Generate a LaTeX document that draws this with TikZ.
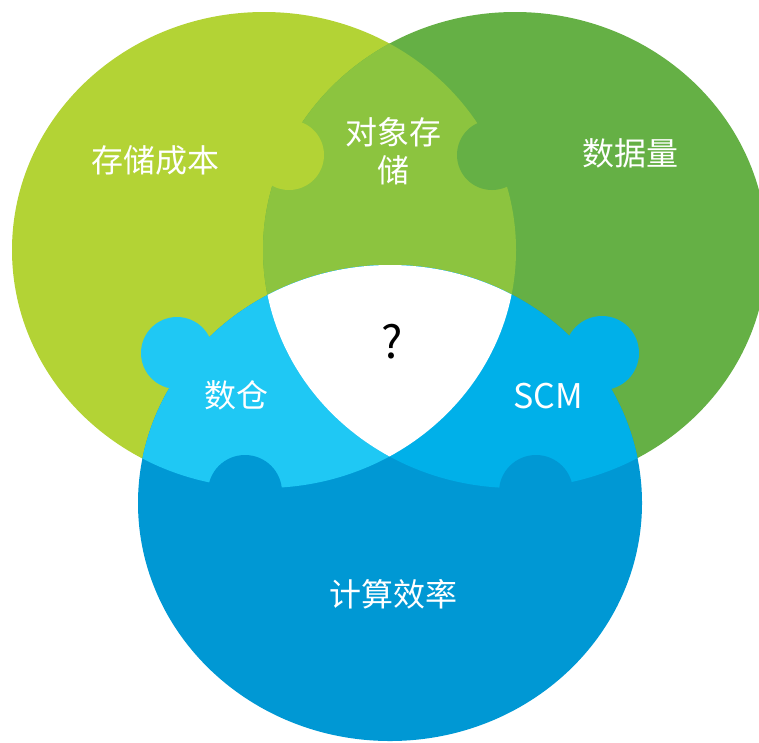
\documentclass[tikz,border=0pt]{standalone}
\usepackage{fontspec}
\newfontfamily\cjk{Noto Sans CJK SC}
\definecolor{cstore}{HTML}{B3D335}
\definecolor{cdata}{HTML}{65B045}
\definecolor{cobj}{HTML}{8CC43F}
\definecolor{ccomp}{HTML}{0098D4}
\definecolor{cdw}{HTML}{1FC8F4}
\definecolor{cscm}{HTML}{00B0E9}
\tikzset{
  lbl/.style={text=white,align=center,font=\cjk\fontsize{32}{38}\selectfont},
  knob/.style={radius=36}
}

\begin{document}
\begin{tikzpicture}[x=1pt,y=-1pt]
            \useasboundingbox (0,0) rectangle (759,742);
            \coordinate (lc) at (264,250);
            \coordinate (rc) at (515,250);
            \coordinate (bc) at (390,503);
            % the three rings
            \fill[cstore] (lc) ellipse [x radius=252,y radius=238];
            \fill[cdata] (rc) ellipse [x radius=252,y radius=238];
            \begin{scope}
                \clip (lc) ellipse [x radius=252,y radius=238];
                \fill[cobj] (rc) ellipse [x radius=252,y radius=238];
            \end{scope}
            \fill[ccomp] (bc) ellipse [x radius=252,y radius=238];
            \begin{scope}
                \clip (bc) ellipse [x radius=252,y radius=238];
                \fill[cdw] (lc) ellipse [x radius=252,y radius=238];
                \fill[cscm] (rc) ellipse [x radius=252,y radius=238];
                \clip (lc) ellipse [x radius=252,y radius=238];
                \fill[white] (rc) ellipse [x radius=252,y radius=238];
            \end{scope}
            % puzzle knobs
            \fill[cstore] (289,155) circle [knob,radius=35];
            \fill[cdata] (492,155) circle [knob,radius=35];
            \fill[cdw] (177,353) circle [knob];
            \fill[cscm] (602,353) circle [knob,radius=37];
            \fill[ccomp] (245,492) circle [knob,radius=37];
            \fill[ccomp] (536,492) circle [knob,radius=37];
            % labels
            \node[lbl] (cost) at (155,160) {存储成本};
            \node[lbl] (obj) at (393,151) {对象存\\储};
            \node[lbl] (vol) at (630,153) {数据量};
            \node[lbl] (dw) at (236,395) {数仓};
            \node[lbl,font=\cjk\fontsize{34}{38}\selectfont] (scm) at (548,396) {SCM};
            \node[lbl] (eff) at (393,594) {计算效率};
            \node[font=\cjk\fontsize{45}{50}\selectfont] (q) at (392,342) {?};
        \end{tikzpicture}
\end{document}
